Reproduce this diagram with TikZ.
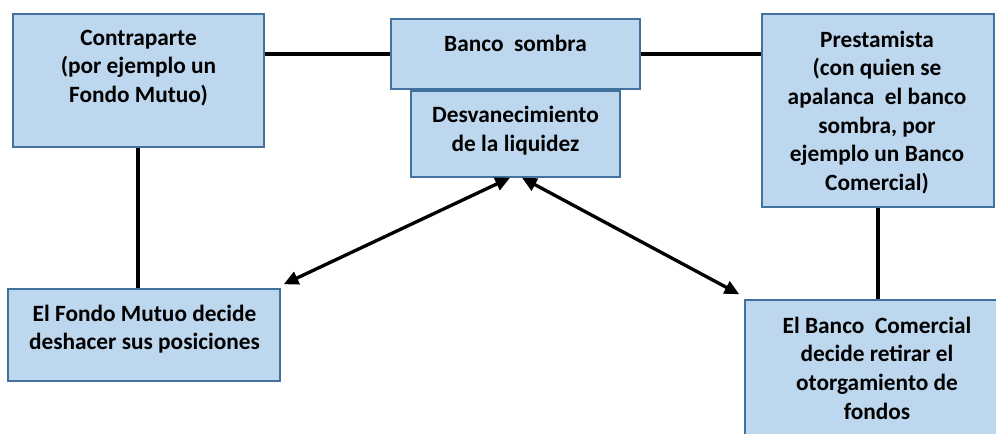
\documentclass[tikz,border=0pt]{standalone}
\usepackage{fontspec}
\setmainfont{Carlito}
\usetikzlibrary{arrows.meta,fit}
\definecolor{boxfill}{HTML}{BDD7EE}
\definecolor{boxline}{HTML}{41719C}
\begin{document}
\begin{tikzpicture}[x=0.75pt,y=-0.75pt,
  box/.style={draw=boxline, fill=boxfill, line width=1.1pt, inner sep=0pt},
  txt/.style={font=\bfseries\fontsize{17.5}{21.5}\selectfont, align=center, inner sep=0pt},
  conn/.style={line width=2.5pt},
  arr/.style={line width=2.5pt, {Triangle[length=11pt,width=10pt]}-{Triangle[length=11pt,width=10pt]}}]
\useasboundingbox (0,0) rectangle (996,433);
\clip (0,0) rectangle (996,433);
% boxes
\node[box, fit={(13,14) (264,147)}] (cp) {};
\node[box, fit={(391,19) (640,89)}] (bs) {};
\node[box, fit={(411,91) (620,177)}] (dl) {};
\node[box, fit={(762,14) (994,207)}] (ps) {};
\node[box, fit={(8,289) (280,381)}] (fm) {};
\node[box, fit={(745,300) (1009,445)}] (bc) {};
% texts
\node[txt] (cpt) at (138.5,68) {Contraparte\\(por ejemplo un\\Fondo Mutuo)};
\node[txt] (bst) at (515.5,43) {Banco\ \ sombra};
\node[txt] (dlt) at (515.5,130.5) {Desvanecimiento\\de la liquidez};
\node[txt] (pst) at (877,112.5) {Prestamista\\(con quien se\\apalanca\ \ el banco\\sombra, por\\ejemplo un Banco\\Comercial)};
\node[txt] (fmt) at (144.5,329) {El Fondo Mutuo decide\\deshacer sus posiciones};
\node[txt] (bct) at (877,368) {El Banco\ \ Comercial\\decide retirar el\\otorgamiento de\\fondos};
% connectors
\draw[conn] (cp.north east |- bs.west) -- (bs.west);
\draw[conn] (bs.east) -- (bs.east -| ps.west);
\coordinate (c1) at ([xshift=-0.5*0.75pt]cp.south);
\draw[conn] (c1) -- (c1 |- fm.north);
\draw[conn] (ps.south) -- (ps.south |- bc.north);
% arrows
\coordinate (la) at ([xshift=-5.5*0.75pt]dl.south);
\coordinate (ra) at ([xshift=6.5*0.75pt]dl.south);
\coordinate (lb) at ([shift={(3,-4)}]fm.north east);
\coordinate (rb) at ([shift={(-5,-5)}]bc.north west);
\draw[arr] (la) -- (lb);
\draw[arr] (ra) -- (rb);
\end{tikzpicture}
\end{document}
